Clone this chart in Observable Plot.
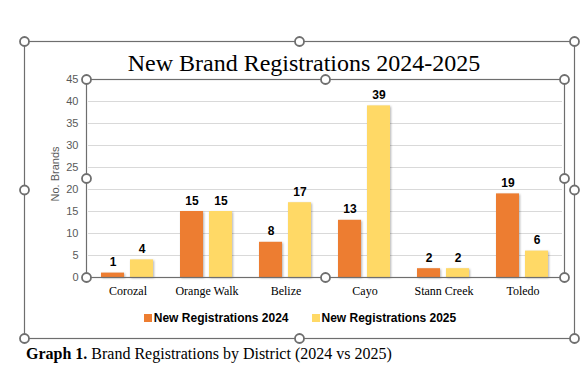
<!DOCTYPE html>
<html><head><meta charset="utf-8">
<script src="https://cdn.jsdelivr.net/npm/d3@7"></script>
<script src="https://cdn.jsdelivr.net/npm/@observablehq/plot@0.6"></script>
<style>
html,body{margin:0;padding:0;background:#fff;}
#wrap{position:relative;width:585px;height:375px;overflow:hidden;}
#title{position:absolute;top:51px;left:304px;transform:translateX(-50%);white-space:nowrap;font:24px/24px "Liberation Serif","Times New Roman",serif;color:#000;}
#chart{position:absolute;left:0;top:0;}
#ylabel{position:absolute;left:55px;top:174px;transform:translate(-50%,-50%) rotate(-90deg);font:11px/11px "Liberation Sans",Arial,sans-serif;color:#595959;white-space:nowrap;}
#legend{position:absolute;top:312px;left:24px;width:552px;display:flex;justify-content:center;gap:23px;font:bold 12px/12px "Liberation Sans",Arial,sans-serif;color:#000;}
.item{display:flex;align-items:center;gap:2px}
.sw{width:8px;height:8px;display:inline-block}
#caption{position:absolute;top:346px;left:26px;font:16px/16px "Liberation Serif","Times New Roman",serif;white-space:nowrap;color:#000;}
#overlay{position:absolute;left:0;top:0;pointer-events:none}
</style>
</head>
<body>
<div id="wrap">
  <div id="chart"></div>
  <div id="title"></div>
  <div id="ylabel"></div>
  <div id="legend"></div>
  <div id="caption"><b>Graph 1.</b> Brand Registrations by District (2024 vs 2025)</div>
</div>
<script>
const districts = ["Corozal", "Orange Walk", "Belize", "Cayo", "Stann Creek", "Toledo"];
const reg2024 = [1, 15, 8, 13, 2, 19];
const reg2025 = [4, 15, 17, 39, 2, 6];
const seriesNames = ["New Registrations 2024", "New Registrations 2025"];
const seriesColors = ["#ED7D31", "#FFD966"];
const yTicks = [0, 5, 10, 15, 20, 25, 30, 35, 40, 45];
const titleText = "New Brand Registrations 2024-2025";
const yLabelText = "No. Brands";

const rows = districts.flatMap((d, i) => [
  {district: d, series: seriesNames[0], value: reg2024[i]},
  {district: d, series: seriesNames[1], value: reg2025[i]}
]);

document.getElementById("title").textContent = titleText;
document.getElementById("ylabel").textContent = yLabelText;

const chart = Plot.plot({
  width: 585, height: 300,
  marginTop: 79, marginBottom: 23, marginLeft: 86, marginRight: 21,
  style: {fontFamily: "Liberation Sans, Arial, sans-serif", background: "transparent", overflow: "visible"},
  fx: {domain: districts, padding: 0, label: null},
  x: {domain: seriesNames, paddingInner: 0.2, paddingOuter: 0.43, axis: null},
  y: {domain: [0, 45], label: null},
  color: {domain: seriesNames, range: seriesColors},
  marks: [
    Plot.gridY(yTicks, {stroke: "#d9d9d9", strokeOpacity: 1}),
    Plot.barY(rows, {fx: "district", x: "series", y: "value", fill: "series"}),
    Plot.ruleY([0], {stroke: "#bfbfbf"}),
    Plot.text(rows, {fx: "district", x: "series", y: "value", text: "value", lineAnchor: "bottom", dy: -7, fontSize: 12, fontWeight: "bold", fill: "#000"}),
    Plot.axisY(yTicks, {tickSize: 0, tickPadding: 10, fontSize: 11, color: "#595959", label: null}),
    Plot.axisFx({anchor: "bottom", tickSize: 0, tickPadding: 9, fontSize: 12, fontFamily: "Liberation Serif, Times New Roman, serif", color: "#000", label: null})
  ]
});
document.getElementById("chart").appendChild(chart);
d3.select(chart).selectAll("g[aria-label='bar'] rect")
  .style("filter", "drop-shadow(1px 1px 1px rgba(0,0,0,0.3))");

// legend
const legend = d3.select("#legend");
seriesNames.forEach((s, i) => {
  const it = legend.append("div").attr("class", "item");
  it.append("span").attr("class", "sw").style("background", seriesColors[i]);
  it.append("span").text(s);
});

// selection frames (decoration, as in the screenshot)
const ov = d3.select("#wrap").append("svg").attr("id", "overlay").attr("width", 585).attr("height", 375);
function frame(x0, y0, x1, y1) {
  ov.append("rect").attr("x", x0).attr("y", y0).attr("width", x1 - x0).attr("height", y1 - y0)
    .attr("fill", "none").attr("stroke", "#6e6e6e").attr("stroke-width", 1.2);
  const xm = (x0 + x1) / 2, ym = (y0 + y1) / 2;
  [[x0,y0],[xm,y0],[x1,y0],[x0,ym],[x1,ym],[x0,y1],[xm,y1],[x1,y1]].forEach(([x,y]) => {
    ov.append("circle").attr("cx", x).attr("cy", y).attr("r", 4.5)
      .attr("fill", "#fff").attr("stroke", "#6e6e6e").attr("stroke-width", 1.8);
  });
}
frame(24.5, 41.5, 574.5, 338.5);
frame(86.5, 79.5, 564.5, 277.5);
</script>
</body></html>
